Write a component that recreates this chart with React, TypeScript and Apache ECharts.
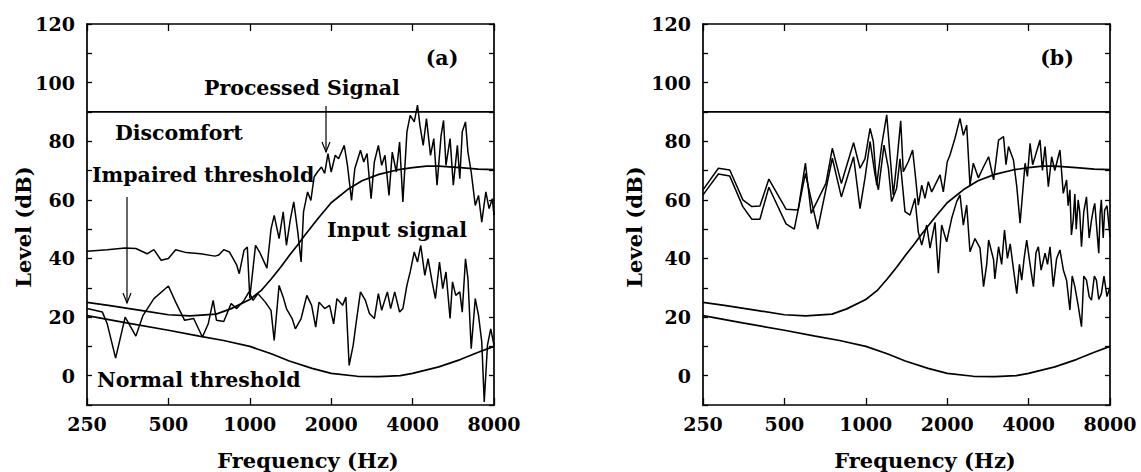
import React, { useEffect, useRef } from "react";
import * as echarts from "echarts";

const freqTicks = [250, 500, 1000, 2000, 4000, 8000];
const levelMin = -10;
const levelMax = 120;

const discomfort: number[][] = [[250, 90], [8000, 90]];

const impairedThreshold: number[][] = [
  [250, 25], [300, 24], [400, 22.2], [500, 20.8], [600, 20.4], [750, 21], [850, 22.8], [1000, 26],
  [1100, 29], [1200, 33], [1300, 37], [1400, 41], [1500, 44.5], [1600, 48], [1800, 54], [2000, 59],
  [2300, 63.5], [2600, 66.5], [3000, 68.7], [3500, 70.2], [4000, 71], [4500, 71.5], [5000, 71.5],
  [6000, 71], [7000, 70.5], [8000, 70.3],
];

const normalThreshold: number[][] = [
  [250, 20.5], [350, 18], [500, 15.5], [650, 13.5], [800, 12], [1000, 10], [1200, 7.5], [1400, 5],
  [1700, 2.5], [2000, 0.8], [2500, -0.2], [3000, -0.3], [3600, 0], [4000, 0.8], [5000, 3],
  [6000, 5.5], [7000, 8], [8000, 10],
];

const processedSignalA: number[][] = [
  [250, 42.5], [297, 43], [346, 43.6], [379, 43.4], [417, 41.6], [442, 43], [470, 39.4], [500, 40],
  [532, 43], [582, 42], [658, 41.6], [743, 40.8], [768, 41.2], [801, 43], [841, 42.2], [895, 37.7],
  [914, 34.8], [952, 42.8], [979, 43.9], [1000, 26.5], [1050, 44.5], [1087, 42.2], [1157, 36.7],
  [1198, 50], [1231, 54.7], [1283, 46.8], [1329, 55.9], [1366, 44.5], [1414, 53.6], [1454, 59.3],
  [1505, 49], [1548, 38.8], [1580, 55.9], [1636, 62.7], [1682, 59.8], [1729, 67.8], [1778, 69.5],
  [1841, 71.2], [1892, 69], [1946, 75.8], [2000, 69.5], [2070, 75.2], [2129, 74], [2235, 78.6],
  [2297, 71.8], [2378, 59.8], [2445, 70.6], [2566, 76.9], [2639, 72.9], [2714, 75.8], [2809, 60.4],
  [2888, 72.9], [2989, 78.6], [3074, 71.8], [3161, 75.2], [3272, 61.5], [3364, 76.3], [3482, 69.5],
  [3581, 79.7], [3682, 59.3], [3811, 83.2], [3919, 88.8], [4056, 86.6], [4171, 92.3], [4258, 85.4],
  [4378, 78.6], [4501, 87.7], [4659, 75.2], [4791, 80.9], [4925, 65], [5099, 82], [5206, 87.1],
  [5315, 71.8], [5503, 80.9], [5657, 65], [5856, 78.6], [5979, 67.2], [6105, 83.2], [6276, 86.6],
  [6408, 76.3], [6588, 69.5], [6820, 58.1], [7012, 61.5], [7209, 52.4], [7464, 62.7], [7673, 57],
  [7889, 60.4], [8000, 54.7],
];

const inputSignalA: number[][] = [
  [250, 22.9], [285, 21.7], [297, 17.7], [319, 6], [346, 20], [379, 13.5], [403, 20.6], [442, 26.3],
  [500, 30.6], [532, 25.1], [574, 18.9], [620, 19.5], [668, 13.2], [702, 17.7], [732, 25.7],
  [753, 18.9], [801, 18.5], [853, 24.6], [895, 22.9], [952, 25.7], [993, 28.6], [1028, 25.7],
  [1072, 28], [1141, 25.1], [1198, 22.3], [1231, 12], [1283, 30.8], [1329, 26.8], [1366, 22.9],
  [1434, 19.5], [1474, 16], [1548, 19.5], [1625, 27.4], [1693, 24], [1753, 16.6], [1803, 25.1],
  [1892, 22.9], [1973, 24], [2042, 17.7], [2100, 26.3], [2204, 24], [2266, 26.8], [2330, 3.5],
  [2412, 10.4], [2480, 18.9], [2566, 28.6], [2676, 25.7], [2770, 21.2], [2888, 19.5], [2989, 28],
  [3074, 22.3], [3227, 28.6], [3318, 22.9], [3435, 28.6], [3581, 21.7], [3682, 22.9], [3811, 30.8],
  [3919, 35.4], [4056, 42.2], [4171, 38.8], [4287, 44.5], [4438, 34.2], [4563, 39.9], [4724, 32],
  [4857, 26.3], [5029, 38.8], [5170, 29.7], [5315, 35.4], [5503, 19.5], [5618, 32], [5776, 27.4],
  [5979, 28.6], [6105, 21.7], [6276, 39.9], [6408, 33.1], [6588, 9.2], [6820, 26.3], [7012, 20.6],
  [7209, 11.5], [7362, -9], [7568, 10.4], [7780, 16], [8000, 10.4],
];

const signalB1: number[][] = [
  [250, 63.4], [285, 70.8], [314, 70.2], [351, 60], [379, 57.7], [406, 57.9], [438, 67.1], [507, 56.8],
  [562, 56.5], [598, 72.5], [628, 55.4], [712, 65.6], [752, 77.6], [812, 65.6], [901, 79.5], [952, 70.8],
  [993, 74], [1037, 84.4], [1066, 79.9], [1097, 65], [1145, 78.7], [1195, 89], [1229, 75.3], [1264, 61.7],
  [1308, 74.5], [1346, 87], [1376, 69.6], [1436, 73], [1490, 77], [1520, 69.6], [1564, 58.2], [1610, 65],
  [1655, 60.5], [1703, 66.2], [1752, 62.7], [1803, 65], [1882, 68.5], [1935, 62.7], [2001, 73],
  [2048, 75.3], [2137, 81], [2230, 87.8], [2295, 82], [2361, 85.5], [2428, 65], [2498, 72.5],
  [2607, 67.5], [2726, 71.3], [2846, 74.7], [2969, 66.8], [3097, 80.4], [3231, 81.6], [3300, 72],
  [3371, 78.2], [3516, 73.6], [3617, 64.5], [3721, 52], [3882, 72.5], [3960, 68], [4050, 79.3],
  [4140, 72], [4226, 74.7], [4408, 80.4], [4500, 70], [4601, 78.2], [4733, 64.5], [4868, 74.7],
  [5000, 70], [5078, 72.5], [5224, 77], [5373, 62.2], [5527, 66.8], [5600, 58], [5686, 63.4],
  [5760, 48], [5849, 53.1], [5930, 62], [6000, 50], [6101, 60], [6180, 56], [6276, 44], [6400, 56],
  [6548, 61], [6700, 47], [6831, 53], [6950, 57], [7026, 58.8], [7150, 50], [7270, 41.8], [7350, 55],
  [7432, 60], [7550, 47], [7643, 56.5], [7800, 58], [8000, 47.4],
];

const signalB2: number[][] = [
  [250, 61.7], [285, 68.8], [314, 68.1], [351, 57.7], [379, 53.4], [406, 53.4], [438, 64.3], [507, 51.8],
  [544, 50], [598, 69], [664, 50], [752, 74.2], [812, 61], [901, 74.7], [952, 57], [993, 67.4],
  [1037, 79.9], [1082, 68.5], [1113, 63.4], [1168, 78.7], [1212, 70.8], [1246, 59.4], [1300, 63.9],
  [1338, 74], [1396, 56], [1457, 54.8], [1520, 60.5], [1564, 49], [1610, 44.6], [1680, 51.4],
  [1728, 43.5], [1803, 52.3], [1855, 35], [1908, 51.4], [1991, 45.7], [2078, 53.7], [2168, 59.4],
  [2230, 61.7], [2295, 51.4], [2361, 58.2], [2428, 42.3], [2534, 46.8], [2645, 43.5], [2726, 30.4],
  [2800, 38], [2846, 46.3], [2969, 39.5], [3000, 33], [3097, 44], [3180, 38], [3258, 49.7], [3340, 40],
  [3420, 45], [3520, 36], [3617, 28], [3700, 38], [3773, 32.6], [3850, 40], [3936, 46.3], [4050, 38],
  [4167, 30.4], [4260, 42], [4347, 44], [4450, 36], [4601, 41.8], [4700, 38], [4800, 44], [4936, 30.4],
  [5078, 40], [5224, 42.9], [5380, 36], [5527, 32.6], [5686, 22.4], [5800, 34], [5931, 30.4],
  [6100, 24], [6276, 16.7], [6400, 34], [6548, 32.6], [6700, 27], [6831, 25.8], [7000, 34],
  [7126, 32.6], [7270, 26], [7432, 28], [7600, 34], [7800, 27], [8000, 30.4],
];

const FONT_FAMILY = '"DejaVu Serif", serif';
const FONT = 'bold 20.5px "DejaVu Serif", serif';
const TITLE_FONT = 'bold 21px "DejaVu Serif", serif';

const toOct = (pts: number[][]) => pts.map(([f, l]) => [Math.log2(f / freqTicks[0]), l]);

function makeXAxis(gridIndex: number, top: boolean) {
  return {
    type: "value",
    gridIndex,
    position: top ? "top" : "bottom",
    min: 0,
    max: freqTicks.length - 1,
    interval: 1,
    axisLine: { show: true, onZero: false, lineStyle: { color: "#000", width: 1.7 } },
    axisTick: { show: true, inside: true, length: 7, lineStyle: { color: "#000", width: 1.3 } },
    axisLabel: {
      show: !top,
      margin: 9,
      color: "#000",
      fontFamily: FONT_FAMILY,
      fontWeight: "bold",
      fontSize: 19,
      showMinLabel: true,
      showMaxLabel: true,
      formatter: (v: number) => String(freqTicks[Math.round(v)] ?? ""),
    },
    splitLine: { show: false },
  };
}

function makeYAxis(gridIndex: number, right: boolean) {
  return {
    type: "value",
    gridIndex,
    position: right ? "right" : "left",
    min: levelMin,
    max: levelMax,
    interval: 10,
    axisLine: { show: true, onZero: false, lineStyle: { color: "#000", width: 1.7 } },
    axisTick: { show: true, inside: true, length: 5, lineStyle: { color: "#000", width: 1.3 } },
    axisLabel: {
      show: !right,
      margin: 12,
      color: "#000",
      fontFamily: FONT_FAMILY,
      fontWeight: "bold",
      fontSize: 19,
      showMinLabel: true,
      showMaxLabel: true,
      formatter: (v: number) => (v >= 0 && v % 20 === 0 ? String(v) : ""),
    },
    splitLine: { show: false },
  };
}

function lineSeries(data: number[][], panel: number, width = 1.5) {
  return {
    type: "line",
    xAxisIndex: panel * 2,
    yAxisIndex: panel * 2,
    data: toOct(data),
    showSymbol: false,
    symbol: "none",
    clip: true,
    lineStyle: { color: "#000", width },
  };
}

function txt(text: string, x: number, y: number, align = "left", rotation = 0, font = FONT) {
  return {
    type: "text",
    x,
    y,
    rotation,
    style: {
      text,
      font,
      fill: "#000",
      align,
      verticalAlign: "middle",
      textAlign: align,
      textVerticalAlign: "middle",
    },
  };
}

function arrow(x: number, y1: number, y2: number) {
  return [
    { type: "line", shape: { x1: x, y1, x2: x, y2 }, style: { stroke: "#000", lineWidth: 1.2 } },
    {
      type: "polyline",
      shape: { points: [[x - 4, y2 - 10], [x, y2], [x + 4, y2 - 10]] },
      style: { stroke: "#000", fill: null, lineWidth: 1.2 },
    },
  ];
}

export default function App() {
  const ref = useRef<HTMLDivElement>(null);
  useEffect(() => {
    document.body.style.margin = "0";
    if (!ref.current) return;
    const chart = echarts.init(ref.current, undefined, { renderer: "svg" });
    chart.setOption({
      animation: false,
      backgroundColor: "#fff",
      grid: [
        { left: 87, top: 24, width: 407, height: 381 },
        { left: 703, top: 24, width: 407, height: 381 },
      ],
      xAxis: [makeXAxis(0, false), makeXAxis(0, true), makeXAxis(1, false), makeXAxis(1, true)],
      yAxis: [makeYAxis(0, false), makeYAxis(0, true), makeYAxis(1, false), makeYAxis(1, true)],
      series: [
        lineSeries(discomfort, 0, 1.7),
        lineSeries(impairedThreshold, 0, 1.7),
        lineSeries(normalThreshold, 0, 1.7),
        lineSeries(processedSignalA, 0),
        lineSeries(inputSignalA, 0),
        lineSeries(discomfort, 1, 1.7),
        lineSeries(impairedThreshold, 1, 1.7),
        lineSeries(normalThreshold, 1, 1.7),
        lineSeries(signalB1, 1),
        lineSeries(signalB2, 1),
      ],
      graphic: [
        txt("(a)", 442, 58, "center"),
        txt("(b)", 1057, 58, "center"),
        txt("Processed Signal", 204, 88),
        txt("Discomfort", 115, 133),
        txt("Impaired threshold", 92, 175),
        txt("Input signal", 327, 230),
        txt("Normal threshold", 97, 380),
        txt("Level (dB)", 23, 227, "center", Math.PI / 2, TITLE_FONT),
        txt("Level (dB)", 634, 227, "center", Math.PI / 2, TITLE_FONT),
        txt("Frequency (Hz)", 308, 460, "center", 0, TITLE_FONT),
        txt("Frequency (Hz)", 925, 460, "center", 0, TITLE_FONT),
        ...arrow(326, 106, 152),
        ...arrow(127, 197, 303),
      ],
    });
    return () => chart.dispose();
  }, []);
  return <div ref={ref} style={{ width: 1141, height: 472 }} />;
}
